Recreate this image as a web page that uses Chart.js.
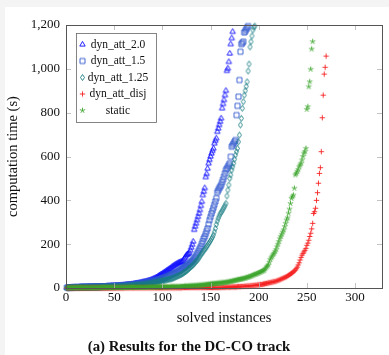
<!DOCTYPE html>
<html>
<head>
<meta charset="utf-8">
<script src="https://cdn.jsdelivr.net/npm/chart.js@4.4.0/dist/chart.umd.min.js"></script>
<style>
  html, body { margin: 0; padding: 0; background: #fff; }
  #wrap { width: 389px; height: 355px; }
</style>
</head>
<body>
<div id="wrap"><canvas id="grafico" width="389" height="355"></canvas></div>
<script>
// nombres de las series y ejes
const nombres = ['dyn_att_2.0', 'dyn_att_1.5', 'dyn_att_1.25', 'dyn_att_disj', 'static'];
const xTicks = [0, 50, 100, 150, 200, 250, 300];
const yTicks = [0, 200, 400, 600, 800, 1000, 1200];
const tituloX = 'solved instances';
const tituloY = 'computation time (s)';
const leyenda = '(a) Results for the DC-CO track';

// tiempos ordenados (instancia i = posición + 1)
const dynAtt20 = [
  2,2,2,2,3,3,3,3,3,3, 3,3,3,4,4,4,4,4,4,4, 4,5,5,5,5,5,5,5,6,6, 6,6,6,6,6,7,7,7,7,7,
  7,8,8,8,8,8,9,9,9,9, 10,10,10,11,11,11,12,12,12,13, 13,14,14,15,15,16,16,17,17,18,
  19,20,21,21,22,23,24,25,26,27, 28,29,30,31,32,34,35,36,38,40, 42,44,46,48,51,54,57,60,62,65,
  68,71,74,77,80,83,86,89,92,96, 99,102,105,108,110,113,115,117,119,120,
  122,128,135,142,150,153,156,160,172,185, 198,212,266,281,295,310,325,340,356,375,
  394,424,440,456,506,521,545,569,585,600, 614,626,637,660,672,683,713,728,744,759,
  774,820,840,858,880,900,991,1002,1032,1070, 1113,1140,1169
];
const dynAtt15 = [
  2,2,2,2,2,2,2,3,3,3, 3,3,3,3,3,3,4,4,4,4, 4,4,4,4,5,5,5,5,5,5, 5,5,6,6,6,6,6,6,7,7,
  7,7,7,7,8,8,8,8,8,9, 9,9,9,10,10,10,10,11,11,11, 12,12,12,13,13,14,14,15,15,16,
  16,17,17,18,18,19,20,20,21,22, 22,23,24,25,26,27,28,29,30,31, 32,33,34,36,37,38,40,41,42,44,
  45,47,48,50,52,54,56,58,60,62, 64,66,68,70,72,75,78,80,83,86,
  89,92,95,98,102,105,108,112,116,120, 124,128,134,140,147,155,163,172,181,190,
  202,214,226,235,247,260,272,291,310,325, 340,353,366,380,395,410,437,446,455,462,
  470,483,495,508,523,538,545,553,561,569, 599,645,652,660,668,675,789,831,873,949,
  1078,1113,1118,1124,1166,1172,1180,1188,1195
];
const dynAtt125 = [
  1,1,1,2,2,2,2,2,2,2, 2,2,2,2,3,3,3,3,3,3, 3,3,3,3,3,3,4,4,4,4, 4,4,4,4,4,4,5,5,5,5,
  5,5,5,5,5,6,6,6,6,6, 6,7,7,7,7,7,8,8,8,8, 9,9,9,9,10,10,10,11,11,11,
  12,12,13,13,14,14,15,15,16,16, 17,17,18,19,19,20,21,21,22,23, 24,25,26,27,28,29,30,31,32,33,
  34,35,36,37,38,39,40,41,42,43, 45,47,49,51,53,55,57,59,61,63,
  66,69,72,75,78,82,86,90,94,98, 102,106,111,116,121,126,132,138,145,152,
  158,164,170,176,182,188,195,202,209,216, 224,232,242,256,272,290,305,318,328,338,
  345,352,360,368,376,386,420,447,470,500, 516,538,553,569,588,607,622,637,667,698,
  744,774,820,850,880,900,920,941,990,1022, 1100,1124,1150,1177,1190,1195
];
const dynAttDisj = [
  0,0,0,0,0,0,0,0,0,0, 0,0,0,0,0,0,0,0,0,0, 0,0,0,0,0,0,0,0,0,0, 0,0,0,0,0,0,0,0,0,0,
  0,0,0,0,0,0,0,0,0,0, 0,0,0,0,0,0,0,0,0,0, 1,1,1,1,1,1,1,1,1,1, 1,1,1,1,1,1,1,1,1,1,
  1,1,1,1,1,1,1,1,1,1, 1,1,1,1,1,1,1,1,1,1, 1,1,1,1,1,1,1,1,1,1, 1,1,1,1,1,1,1,1,1,1,
  2,2,2,2,2,2,2,2,2,2, 2,2,2,2,2,2,2,2,2,2, 2,2,2,2,2,2,2,2,2,2, 2,2,2,2,2,2,2,2,2,2,
  3,3,3,3,3,4,4,4,4,4, 4,5,5,5,5,5,5,6,6,6, 6,7,7,7,8,8,8,9,9,9, 10,10,11,11,12,12,13,13,14,14,
  15,16,16,17,18,19,20,21,22,23, 24,25,26,27,28,29,30,31,33,35,
  36,38,40,42,44,46,48,50,52,55, 58,61,64,67,70,74,78,82,88,95,
  105,115,128,140,150,158,165,172,181,195, 205,218,235,250,270,295,340,348,364,400,
  435,478,523,549,622,777,880,976,1007,1058
];
const estatico = [
  1,1,1,1,1,1,1,1,1,1, 1,1,1,1,1,1,1,1,1,1, 1,1,1,1,1,1,1,1,1,1, 1,1,1,1,1,2,2,2,2,2,
  2,2,2,2,2,2,2,2,2,2, 2,2,2,2,2,2,2,2,2,2, 2,2,2,2,3,3,3,3,3,3, 3,3,3,3,3,3,3,3,3,3,
  3,3,3,3,4,4,4,4,4,4, 4,4,4,4,4,4,5,5,5,5, 5,5,5,5,5,5,5,5,6,6, 6,6,6,6,6,6,6,6,7,7,
  7,7,8,8,8,8,9,9,9,10, 10,10,11,11,11,12,12,12,13,13, 13,14,14,15,15,16,16,17,17,18,
  18,19,19,20,20,21,21,22,22,23, 23,24,24,25,25,26,27,27,28,29, 30,31,32,33,34,35,36,37,38,39,
  40,41,42,43,44,45,47,48,50,51, 52,54,56,58,60,62,63,65,67,69,
  71,73,75,77,79,82,88,95,100,105, 118,130,138,145,152,158,166,175,188,200,
  212,225,235,245,255,265,280,295,310,320, 341,360,385,409,416,424,455,516,522,531,
  540,553,561,569,584,600,615,622,637,815, 827,918,941,998,1090,1124
];

const series = [dynAtt20, dynAtt15, dynAtt125, dynAttDisj, estatico];
const colores = ['rgb(10,10,255)', 'rgb(45,85,205)', 'rgb(25,125,130)', 'rgb(245,35,35)', 'rgb(60,165,45)'];
const formas = ['tri', 'sq', 'dia', 'plus', 'star'];

// dibuja una marca tipo pgfplots en un canvas pequeño
function marcador(tipo, color) {
  const c = document.createElement('canvas');
  c.width = 11; c.height = 11;
  const g = c.getContext('2d');
  g.strokeStyle = color;
  g.lineWidth = 0.9;
  g.translate(5.5, 5.5);
  g.beginPath();
  if (tipo === 'tri') {
    g.moveTo(0, -3.1); g.lineTo(2.7, 1.6); g.lineTo(-2.7, 1.6); g.closePath();
  } else if (tipo === 'sq') {
    g.rect(-2.5, -2.5, 5, 5);
  } else if (tipo === 'dia') {
    g.moveTo(0, -3); g.lineTo(2, 0); g.lineTo(0, 3); g.lineTo(-2, 0); g.closePath();
  } else if (tipo === 'plus') {
    g.moveTo(-2.7, 0); g.lineTo(2.7, 0); g.moveTo(0, -2.7); g.lineTo(0, 2.7);
  } else {
    for (let k = 0; k < 5; k++) {
      const a = -Math.PI / 2 + k * 2 * Math.PI / 5;
      g.moveTo(0, 0); g.lineTo(2.8 * Math.cos(a), 2.8 * Math.sin(a));
    }
  }
  g.stroke();
  return c;
}
const marcas = formas.map((f, i) => marcador(f, colores[i]));

const fuente = '"Liberation Serif", "Times New Roman", serif';

const marco = {
  id: 'marco',
  beforeDraw(chart) {
    const ctx = chart.ctx;
    ctx.save();
    ctx.fillStyle = '#fff';
    ctx.fillRect(0, 0, chart.width, chart.height);
    ctx.fillStyle = '#f4f4f4';
    ctx.fillRect(0, 0, chart.width, 7);
    ctx.fillRect(0, 0, 5, chart.height);
    ctx.restore();
  },
  afterDraw(chart) {
    const { ctx, chartArea: a, scales: { x, y } } = chart;
    ctx.save();
    // marcas de los ticks hacia dentro
    ctx.strokeStyle = '#b4b4b4';
    ctx.lineWidth = 0.8;
    ctx.beginPath();
    xTicks.forEach(v => {
      const p = Math.round(x.getPixelForValue(v)) + 0.5;
      ctx.moveTo(p, a.bottom); ctx.lineTo(p, a.bottom - 5);
      ctx.moveTo(p, a.top); ctx.lineTo(p, a.top + 5);
    });
    yTicks.forEach(v => {
      const p = Math.round(y.getPixelForValue(v)) + 0.5;
      ctx.moveTo(a.left, p); ctx.lineTo(a.left + 5, p);
      ctx.moveTo(a.right, p); ctx.lineTo(a.right - 5, p);
    });
    ctx.stroke();
    // marco
    ctx.strokeStyle = '#555';
    ctx.lineWidth = 1;
    ctx.strokeRect(a.left + 0.5, a.top + 0.5, a.right - a.left, a.bottom - a.top);

    // leyenda
    ctx.fillStyle = '#fff';
    ctx.fillRect(76.5, 33.5, 80, 89);
    ctx.strokeStyle = '#666';
    ctx.lineWidth = 0.8;
    ctx.strokeRect(76.5, 33.5, 80, 89);
    ctx.font = '11.5px ' + fuente;
    ctx.fillStyle = '#111';
    ctx.textAlign = 'center';
    ctx.textBaseline = 'middle';
    nombres.forEach((n, i) => {
      const yy = 44.5 + i * 16.5;
      ctx.drawImage(marcas[i], 82.5 - 5.5, yy - 5.5);
      ctx.fillText(n, 118, yy);
    });

    // títulos
    ctx.font = '14.5px ' + fuente;
    ctx.fillText(tituloX, (a.left + a.right) / 2, 318);
    ctx.save();
    ctx.translate(13, (a.top + a.bottom) / 2);
    ctx.rotate(-Math.PI / 2);
    ctx.fillText(tituloY, 0, 0);
    ctx.restore();
    ctx.font = 'bold 14.8px ' + fuente;
    ctx.fillText(leyenda, 189, 347);
    ctx.restore();
  }
};

new Chart(document.getElementById('grafico'), {
  type: 'scatter',
  data: {
    datasets: series.map((s, i) => ({
      label: nombres[i],
      data: s.map((v, k) => ({ x: k + 1, y: v })),
      pointStyle: marcas[i],
      pointRadius: 3,
      showLine: false,
      clip: false,
      order: series.length - 1 - i
    }))
  },
  options: {
    responsive: false,
    animation: false,
    events: [],
    layout: { padding: { top: 25, right: 7, left: 0, bottom: 0 } },
    plugins: { legend: { display: false }, tooltip: { enabled: false } },
    scales: {
      x: {
        type: 'linear', min: 0, max: 328,
        afterFit: s => { s.height = 67; },
        afterBuildTicks: s => { s.ticks = xTicks.map(v => ({ value: v })); },
        grid: { display: false, drawTicks: false },
        border: { display: false },
        ticks: { padding: 2, color: '#111', font: { family: fuente, size: 13 }, callback: v => String(v) }
      },
      y: {
        type: 'linear', min: 0, max: 1200,
        afterFit: s => { s.width = 66; },
        afterBuildTicks: s => { s.ticks = yTicks.map(v => ({ value: v })); },
        grid: { display: false, drawTicks: false },
        border: { display: false },
        ticks: { padding: 6, color: '#111', font: { family: fuente, size: 13 }, callback: v => v.toLocaleString('en-US') }
      }
    }
  },
  plugins: [marco]
});
</script>
</body>
</html>
